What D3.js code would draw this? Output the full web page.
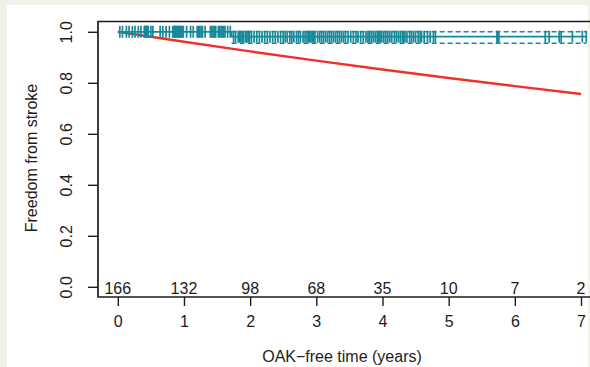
<!DOCTYPE html>
<html><head><meta charset="utf-8">
<script src="https://cdn.jsdelivr.net/npm/d3@7"></script>
<style>body{margin:0;background:#f1f1e9;} svg{display:block;}</style>
</head><body>
<svg id="c" width="590" height="367"></svg>
<script>
// ---- data ----
const xTicks = [0,1,2,3,4,5,6,7];
const yTicks = [0,0.2,0.4,0.6,0.8,1.0];
const atRisk = [166,132,98,68,35,10,7,2];
// Kaplan-Meier curve (observed)
const kmTimes = [0, 1.72, 7.08];
const kmSurv  = [1, 0.981, 0.981];
// confidence band after first event
const ciTimes = [1.72, 7.08];
const ciUpper = [1.0, 1.0];
const ciLower = [0.955, 0.955];
// expected (predicted) freedom from stroke
const expTimes = [0,1,2,3,4,5,6,7];
const expSurv  = [1, 0.961, 0.923, 0.887, 0.852, 0.819, 0.787, 0.756];
// censoring times (years)
const censorTimes = [
 0.03,0.07,0.13,0.17,0.22,0.26,0.31,0.35,0.40,0.41,0.42,0.43,0.44,0.45,0.46,0.50,0.53,0.64,0.68,0.73,0.78,0.83,0.85,0.86,0.87,0.88,0.89,0.91,0.92,0.93,0.95,0.96,0.97,0.99,
 1.04,1.10,1.14,1.20,1.22,1.24,1.26,1.28,1.32,1.40,1.42,1.44,1.46,1.48,1.52,1.54,1.56,1.58,1.60,1.62,1.66,1.70,1.75,1.78,1.82,1.84,1.86,1.88,1.90,1.93,1.95,1.97,1.99,
 2.02,2.06,2.10,2.14,2.18,2.22,2.26,2.30,2.34,2.38,2.42,2.46,2.50,2.53,2.56,2.60,2.63,2.66,2.70,2.73,2.76,2.80,2.83,2.86,2.88,2.90,2.92,2.94,2.96,2.98,
 3.02,3.05,3.08,3.11,3.14,3.17,3.20,3.23,3.26,3.29,3.32,3.35,3.38,3.41,3.44,3.48,3.52,3.56,3.60,3.63,3.67,3.71,3.75,3.78,3.80,3.83,3.86,3.89,3.92,3.94,3.96,3.98,3.99,
 4.02,4.05,4.08,4.11,4.14,4.18,4.21,4.24,4.27,4.30,4.32,4.34,4.37,4.41,4.44,4.47,4.50,4.54,4.57,4.59,4.63,4.68,4.72,4.77,4.80,
 5.73,5.74,5.76,
 6.46,6.52,6.67,6.70,6.87,
 7.02,7.08
];

// ---- drawing ----
const svg = d3.select("#c");
const font = "'Liberation Sans', Arial, Helvetica, sans-serif";
const teal = "#17899a", red = "#f0302a", ink = "#1c1c1c";
svg.append("rect").attr("x",7).attr("y",5).attr("width",581).attr("height",362).attr("fill","#fff");

const x = d3.scaleLinear().domain([0,7]).range([117.8,581]);
const y = d3.scaleLinear().domain([0,1]).range([286.8,31.8]);
const frame = {l:98, t:21.5, r:600, b:297};

svg.append("path")
  .attr("d",`M${frame.r},${frame.t}H${frame.l}V${frame.b}H${frame.r}`)
  .attr("fill","none").attr("stroke",ink).attr("stroke-width",1.7);

// y axis
const ya = svg.append("g").attr("transform",`translate(${frame.l},0)`)
  .call(d3.axisLeft(y).tickValues(yTicks).tickFormat(d3.format(".1f")).tickSize(10).tickPadding(0));
ya.select(".domain").remove();
ya.selectAll("line").attr("stroke",ink).attr("stroke-width",1.4);
ya.selectAll("text").attr("x",null).attr("dy",null)
  .attr("transform","translate(-26,0) rotate(-90)")
  .attr("text-anchor","middle").attr("font-family",font).attr("font-size",16).attr("fill",ink);

// x axis
const xa = svg.append("g").attr("transform",`translate(0,${frame.b})`)
  .call(d3.axisBottom(x).tickValues(xTicks).tickFormat(d3.format("d")).tickSize(9).tickPadding(0));
xa.select(".domain").remove();
xa.selectAll("line").attr("stroke",ink).attr("stroke-width",1.4);
xa.selectAll("text").attr("dy",null).attr("y",30)
  .attr("font-family",font).attr("font-size",16).attr("fill",ink);

// axis titles
svg.append("text").attr("x",342).attr("y",362).attr("text-anchor","middle")
  .attr("font-family",font).attr("font-size",16).attr("fill",ink).text("OAK\u2212free time (years)");
svg.append("text").attr("transform","translate(36.5,158) rotate(-90)").attr("text-anchor","middle")
  .attr("font-family",font).attr("font-size",16).attr("fill",ink).text("Freedom from stroke");

// numbers at risk
svg.append("g").selectAll("text").data(atRisk).join("text")
  .attr("x",(d,i)=>x(xTicks[i])).attr("y",293.5).attr("text-anchor","middle")
  .attr("font-family",font).attr("font-size",16).attr("fill",ink).text(d=>d);

// expected line
svg.append("path").datum(expTimes.map((t,i)=>[t,expSurv[i]]))
  .attr("d",d3.line().x(d=>x(d[0])).y(d=>y(d[1])))
  .attr("fill","none").attr("stroke",red).attr("stroke-width",2.4);

// KM curve
const step = d3.line().x(d=>x(d[0])).y(d=>y(d[1])).curve(d3.curveStepAfter);
svg.append("path").datum(ciTimes.map((t,i)=>[t,ciUpper[i]])).attr("d",step)
  .attr("fill","none").attr("stroke",teal).attr("stroke-width",1.4).attr("stroke-dasharray","5,3");
svg.append("path").datum(ciTimes.map((t,i)=>[t,ciLower[i]])).attr("d",step)
  .attr("fill","none").attr("stroke",teal).attr("stroke-width",1.4).attr("stroke-dasharray","5,3");
svg.append("path").datum(kmTimes.map((t,i)=>[t,kmSurv[i]])).attr("d",step)
  .attr("fill","none").attr("stroke",teal).attr("stroke-width",1.8);

function valAt(times, vals, t){ let v=vals[0]; for(let i=0;i<times.length;i++){ if(times[i]<=t) v=vals[i]; } return v; }
svg.append("g").selectAll("line").data(censorTimes).join("line")
  .attr("x1",t=>x(t)).attr("x2",t=>x(t))
  .attr("y1",t=>y(valAt(kmTimes,kmSurv,t))-6).attr("y2",t=>y(valAt(kmTimes,kmSurv,t))+6)
  .attr("stroke",teal).attr("stroke-width",1.7);
</script>
</body></html>
